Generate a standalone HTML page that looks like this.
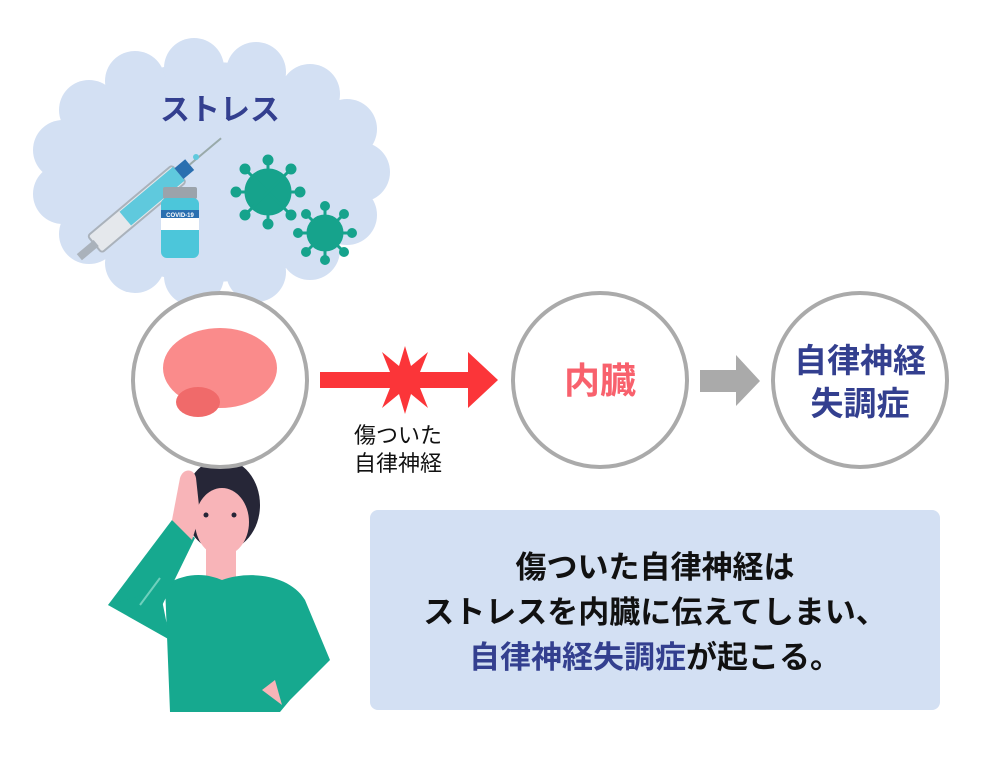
<!DOCTYPE html>
<html><head><meta charset="utf-8"><style>
body{margin:0;background:#fff;width:1000px;height:770px;overflow:hidden}
svg text{font-family:"Liberation Sans","Noto Sans CJK JP",sans-serif;font-weight:bold}
</style></head><body>
<svg width="1000" height="770" viewBox="0 0 1000 770">
<g fill="#d3e0f3">
<ellipse cx="210" cy="172" rx="155" ry="110"/>
<circle cx="360" cy="172" r="30"/><circle cx="347" cy="215" r="30"/><circle cx="310" cy="250" r="30"/>
<circle cx="256" cy="272" r="30"/><circle cx="194" cy="276" r="30"/><circle cx="135" cy="263" r="30"/>
<circle cx="89" cy="234" r="30"/><circle cx="63" cy="194" r="30"/><circle cx="63" cy="150" r="30"/>
<circle cx="89" cy="110" r="30"/><circle cx="135" cy="81" r="30"/><circle cx="194" cy="68" r="30"/>
<circle cx="256" cy="72" r="30"/><circle cx="310" cy="94" r="30"/><circle cx="347" cy="129" r="30"/>
</g>
<text x="220" y="120" font-size="30" fill="#333f8f" text-anchor="middle">ストレス</text>
<g transform="rotate(-40 140 205)">
<rect x="80" y="195" width="110" height="22" rx="3" fill="#e5e8ec" stroke="#aab2bb" stroke-width="2"/>
<rect x="120" y="197" width="70" height="18" fill="#5fc9dd"/>
<rect x="60" y="202" width="22" height="8" fill="#aab2bb"/>
<rect x="190" y="199" width="14" height="14" fill="#2a6fb0"/>
<line x1="204" y1="206" x2="245" y2="206" stroke="#9aa" stroke-width="2"/>
</g>
<circle cx="196" cy="157" r="3" fill="#5fc9dd"/>
<rect x="163" y="187" width="34" height="12" rx="2" fill="#9ba3ab"/>
<rect x="161" y="198" width="38" height="60" rx="6" fill="#4cc6da"/>
<rect x="161" y="210" width="38" height="20" fill="#fff"/>
<rect x="161" y="210" width="38" height="8" fill="#2a6fb0"/>
<text x="180" y="217" font-size="6" fill="#fff" text-anchor="middle">COVID-19</text>
<g fill="#16a38c" stroke="#16a38c" stroke-width="3">
<circle cx="268" cy="192" r="22"/>
<line x1="268" y1="160" x2="268" y2="224"/><line x1="236" y1="192" x2="300" y2="192"/><line x1="245" y1="169" x2="291" y2="215"/><line x1="291" y1="169" x2="245" y2="215"/>
<circle cx="268" cy="160" r="4"/><circle cx="268" cy="224" r="4"/><circle cx="236" cy="192" r="4"/><circle cx="300" cy="192" r="4"/><circle cx="245" cy="169" r="4"/><circle cx="291" cy="215" r="4"/><circle cx="291" cy="169" r="4"/><circle cx="245" cy="215" r="4"/>
<circle cx="325" cy="233" r="17"/>
<line x1="325" y1="206" x2="325" y2="260"/><line x1="298" y1="233" x2="352" y2="233"/><line x1="306" y1="214" x2="344" y2="252"/><line x1="344" y1="214" x2="306" y2="252"/>
<circle cx="325" cy="206" r="3.5"/><circle cx="325" cy="260" r="3.5"/><circle cx="298" cy="233" r="3.5"/><circle cx="352" cy="233" r="3.5"/><circle cx="306" cy="214" r="3.5"/><circle cx="344" cy="252" r="3.5"/><circle cx="344" cy="214" r="3.5"/><circle cx="306" cy="252" r="3.5"/>
</g>
<ellipse cx="222" cy="505" rx="38" ry="46" fill="#262637"/>
<ellipse cx="222" cy="522" rx="27" ry="34" fill="#f8b4b8"/>
<rect x="206" y="545" width="30" height="35" fill="#f8b4b8"/>
<path d="M165 585 C190 570 210 575 222 580 C250 570 290 575 305 600 L330 660 L290 700 L280 712 L170 712 Z" fill="#16a98f"/>
<path d="M108 605 L172 520 L195 538 L155 620 Z" fill="#16a98f"/>
<path d="M108 605 L160 590 L170 640 Z" fill="#16a98f"/>
<path d="M172 520 L180 478 C183 468 194 468 196 478 L200 515 L192 540 Z" fill="#f8b4b8"/>
<path d="M262 690 L275 680 L282 705 Z" fill="#f8b4b8"/>
<line x1="140" y1="605" x2="160" y2="578" stroke="#6fd0bd" stroke-width="2"/>
<circle cx="206" cy="515" r="2.5" fill="#262637"/><circle cx="234" cy="515" r="2.5" fill="#262637"/>
<circle cx="220" cy="380" r="87" fill="#fff" stroke="#aaa" stroke-width="4"/>
<ellipse cx="220" cy="368" rx="57" ry="40" fill="#fa8b8b"/>
<ellipse cx="198" cy="402" rx="22" ry="15" fill="#f06a6a"/>
<rect x="320" y="372" width="150" height="16" fill="#fb3539"/>
<polygon points="468,352 498,380 468,408" fill="#fb3539"/>
<polygon points="405,346 411,366 428,352 420,372 440,380 420,388 428,408 411,394 405,414 399,394 382,408 390,388 370,380 390,372 382,352 399,366" fill="#fb3539"/>
<text x="398" y="443" font-size="22" style="font-weight:normal" fill="#111" text-anchor="middle">傷ついた</text>
<text x="398" y="471" font-size="22" style="font-weight:normal" fill="#111" text-anchor="middle">自律神経</text>
<circle cx="600" cy="380" r="87" fill="#fff" stroke="#aaa" stroke-width="4"/>
<text x="600" y="393" font-size="36" fill="#f8616d" text-anchor="middle">内臓</text>
<rect x="700" y="370" width="38" height="22" fill="#aaa"/>
<polygon points="736,355 760,381 736,406" fill="#aaa"/>
<circle cx="860" cy="380" r="87" fill="#fff" stroke="#aaa" stroke-width="4"/>
<text x="860" y="372" font-size="33" fill="#333f8f" text-anchor="middle">自律神経</text>
<text x="860" y="415" font-size="33" fill="#333f8f" text-anchor="middle">失調症</text>
<rect x="370" y="510" width="570" height="200" rx="8" fill="#d3e0f3"/>
<text x="655" y="578" font-size="31" fill="#111" text-anchor="middle">傷ついた自律神経は</text>
<text x="655" y="623" font-size="31" fill="#111" text-anchor="middle">ストレスを内臓に伝えてしまい、</text>
<text x="655" y="668" font-size="31" fill="#111" text-anchor="middle"><tspan fill="#333f8f">自律神経失調症</tspan>が起こる。</text>
</svg>
</body></html>
